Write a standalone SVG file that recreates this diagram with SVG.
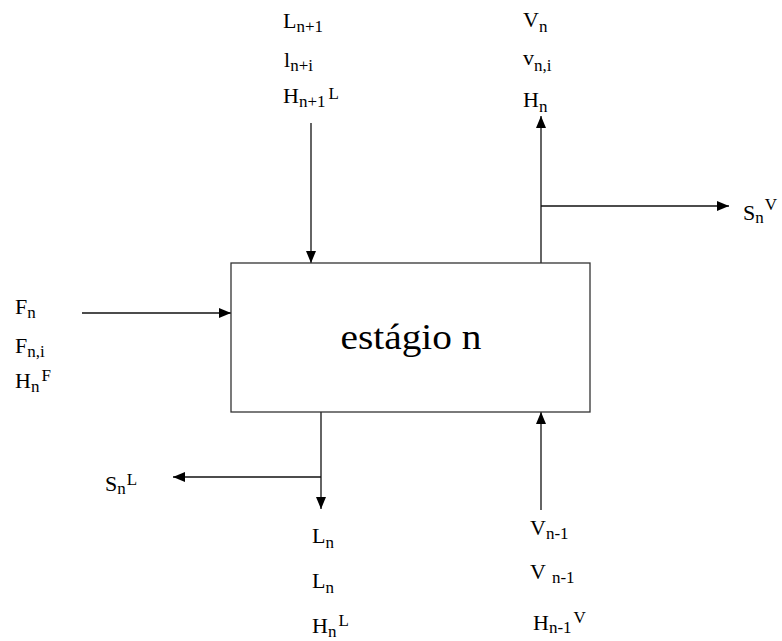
<svg xmlns="http://www.w3.org/2000/svg" width="782" height="641" viewBox="0 0 782 641">
<defs>
<marker id="ah" viewBox="0 0 12 10" refX="12" refY="5" markerWidth="12" markerHeight="10" markerUnits="userSpaceOnUse" orient="auto">
<path d="M0,0 L12,5 L0,10 Z" fill="#000"/>
</marker>
</defs>
<style>
text{font-family:"Liberation Serif","Times New Roman","DejaVu Serif",serif;fill:#000}
.m{font-size:22px}
.s{font-size:17px}
.big{font-size:36px}
.ln{stroke:#111;stroke-width:1.3;fill:none}
.box{stroke:#333;stroke-width:1.3;fill:#fff}
</style>
<rect width="782" height="641" fill="#fff"/>
<g id="connectors">
<line class="ln" x1="311" y1="123" x2="311" y2="263" marker-end="url(#ah)"/>
<line class="ln" x1="541" y1="263" x2="541" y2="116" marker-end="url(#ah)"/>
<line class="ln" x1="541" y1="206" x2="729" y2="206" marker-end="url(#ah)"/>
<line class="ln" x1="82" y1="313" x2="231" y2="313" marker-end="url(#ah)"/>
<line class="ln" x1="321" y1="412" x2="321" y2="509" marker-end="url(#ah)"/>
<line class="ln" x1="321" y1="477" x2="173" y2="477" marker-end="url(#ah)"/>
<line class="ln" x1="541" y1="510" x2="541" y2="412" marker-end="url(#ah)"/>
</g>
<g id="stage">
<rect class="box" x="231" y="263" width="359" height="149"/>
<text class="big" x="411" y="349" text-anchor="middle" textLength="141" lengthAdjust="spacingAndGlyphs">estágio n</text>
</g>
<g id="top-in">
<text class="m" x="283" y="28">L<tspan class="s" dy="4">n+1</tspan></text>
<text class="m" x="284" y="67">l<tspan class="s" dy="4">n+i</tspan></text>
<text class="m" x="283" y="103">H<tspan class="s" dy="4">n+1</tspan><tspan class="s" dy="-8" dx="3">L</tspan></text>
</g>
<g id="top-out">
<text class="m" x="523" y="27">V<tspan class="s" dy="5">n</tspan></text>
<text class="m" x="523" y="65">v<tspan class="s" dy="6">n,i</tspan></text>
<text class="m" x="523" y="107">H<tspan class="s" dy="5">n</tspan></text>
</g>
<g id="side-vapor">
<text class="m" x="743" y="220">S<tspan class="s" dy="3">n</tspan><tspan class="s" dy="-13" dx="1">V</tspan></text>
</g>
<g id="feed">
<text class="m" x="15" y="314">F<tspan class="s" dy="4">n</tspan></text>
<text class="m" x="15" y="353">F<tspan class="s" dy="4">n,i</tspan></text>
<text class="m" x="15" y="388">H<tspan class="s" dy="4">n</tspan><tspan class="s" dy="-11" dx="2">F</tspan></text>
</g>
<g id="side-liquid">
<text class="m" x="105" y="491">S<tspan class="s" dy="3">n</tspan><tspan class="s" dy="-9" dx="1">L</tspan></text>
</g>
<g id="bottom-out">
<text class="m" x="312" y="543">L<tspan class="s" dy="5">n</tspan></text>
<text class="m" x="312" y="588">L<tspan class="s" dy="5">n</tspan></text>
<text class="m" x="312" y="633">H<tspan class="s" dy="4">n</tspan><tspan class="s" dy="-11" dx="2">L</tspan></text>
</g>
<g id="bottom-in">
<text class="m" x="530" y="535">V<tspan class="s" dy="4">n-1</tspan></text>
<text class="m" x="530" y="579">V<tspan class="s" dy="4" dx="6">n-1</tspan></text>
<text class="m" x="533" y="630">H<tspan class="s" dy="3">n-1</tspan><tspan class="s" dy="-10" dx="2">V</tspan></text>
</g>
</svg>
